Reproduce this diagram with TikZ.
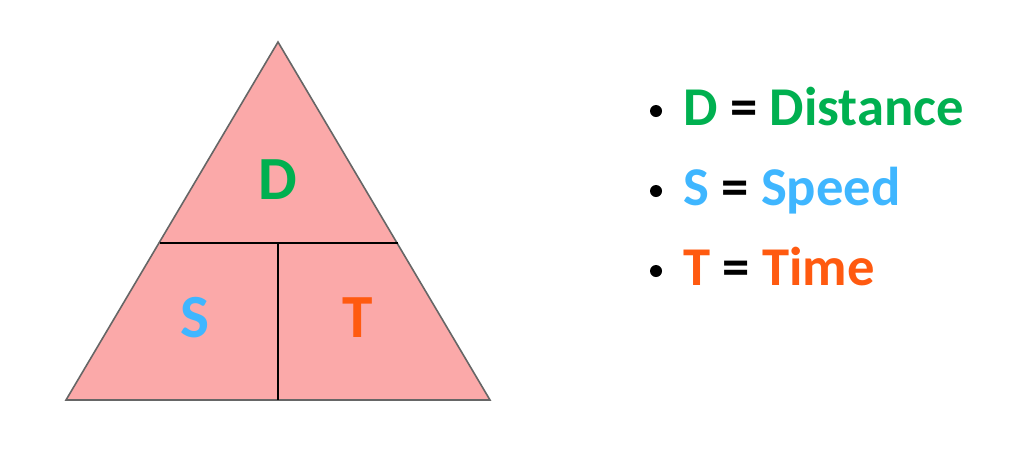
\documentclass[tikz,border=0pt]{standalone}
\usepackage{fontspec}
\setmainfont{Carlito}
\definecolor{cg}{HTML}{00B050}
\definecolor{cb}{HTML}{3FB6FF}
\definecolor{co}{HTML}{FF5A10}
\definecolor{pk}{HTML}{FBA9A9}
\begin{document}
\begin{tikzpicture}[x=0.75pt,y=-0.75pt,
  big/.style={font=\fontsize{46}{50}\selectfont\bfseries},
  item/.style={anchor=base west,inner sep=0pt,font=\fontsize{41}{44}\selectfont\bfseries},
  bul/.style={circle,fill=black,inner sep=0pt,minimum size=9pt}]
\useasboundingbox (0,0) rectangle (1024,455);
\coordinate (A) at (278,42);
\coordinate (L) at (66,400);
\coordinate (R) at (490,400);
\draw[fill=pk,draw=gray!80!black,line width=1.2pt] (A) -- (R) -- (L) -- cycle;
\coordinate (hl) at (160,243);
\coordinate (hr) at (398,243);
\coordinate (vt) at (278,243);
\coordinate (vb) at (278,400);
\draw[line width=2.2pt] (hl) -- (hr);
\draw[line width=2.2pt] (vt) -- (vb);
\node[big,text=cg] (d) at (278,180) {D};
\node[big,text=cb] (s) at (195,318) {S};
\node[big,text=co] (t) at (358,318) {T};
\node[bul] (b1) at (656,111) {};
\node[bul] (b2) at (656,191) {};
\node[bul] (b3) at (656,271) {};
\node[item] (l1) at (683,125) {\textcolor{cg}{D} = \textcolor{cg}{Distance}};
\node[item] (l2) at (683,205) {\textcolor{cb}{S} = \textcolor{cb}{Speed}};
\node[item] (l3) at (683,285) {\textcolor{co}{T} = \textcolor{co}{Time}};
\end{tikzpicture}
\end{document}
